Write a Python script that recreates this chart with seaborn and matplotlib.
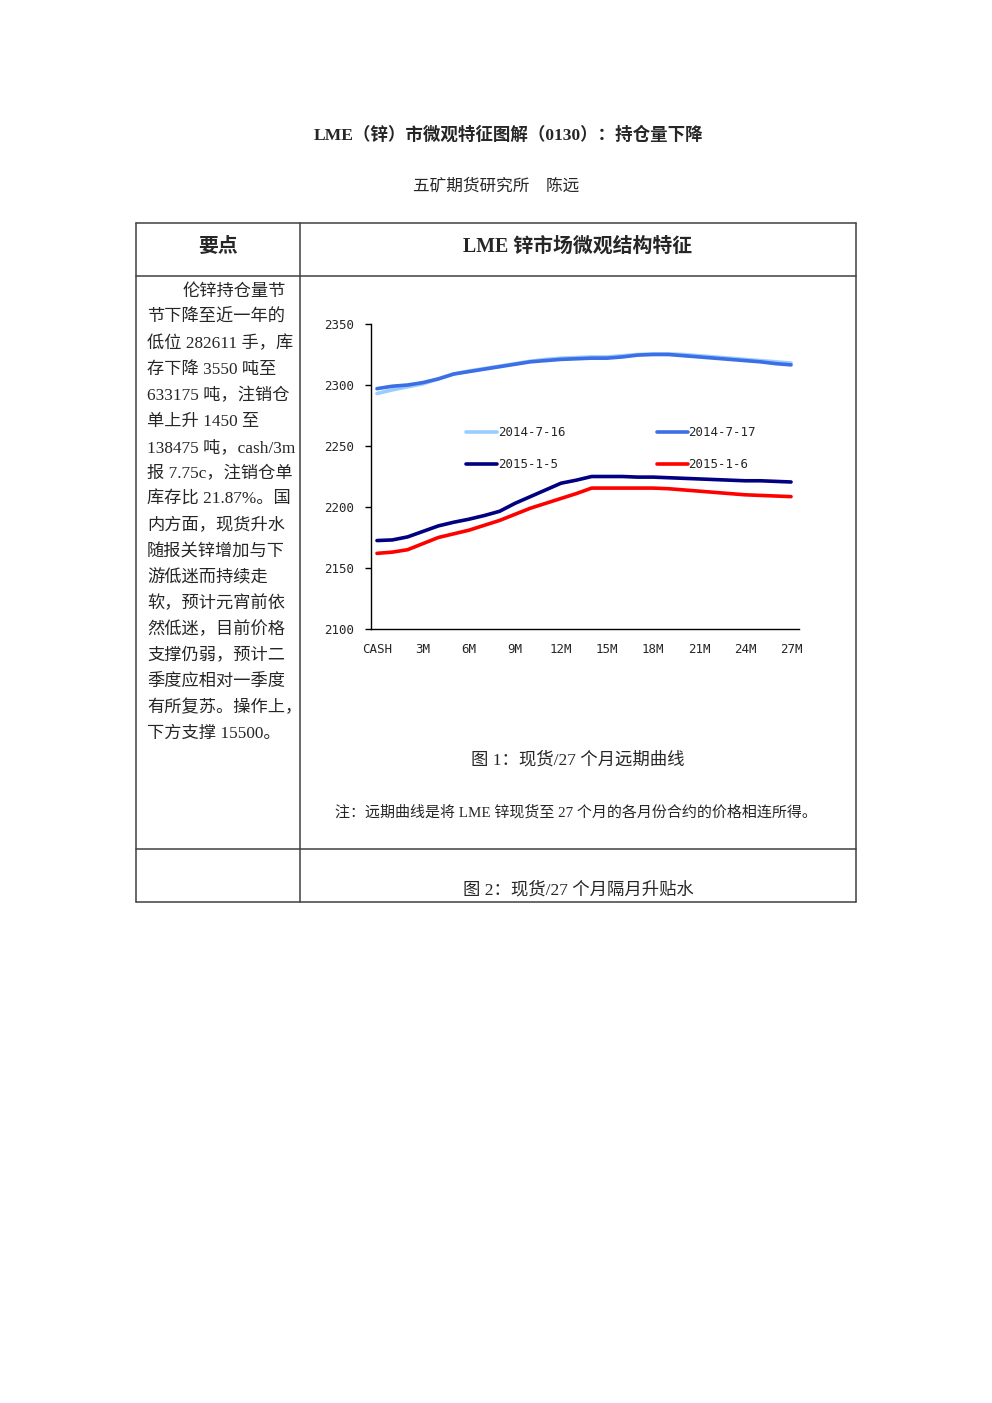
import numpy as np
import pandas as pd
import matplotlib.pyplot as plt
from matplotlib.lines import Line2D
import seaborn as sns

# forward curve data (28 points: CASH, 1M .. 27M)
months = list(range(28))
tick_pos = list(range(0, 28, 3))
tick_labels = ['CASH', '3M', '6M', '9M', '12M', '15M', '18M', '21M', '24M', '27M']

curve_0716 = [2293, 2296, 2298.5, 2301, 2305, 2309, 2311.5, 2313.5, 2315.5, 2317.5,
              2319.5, 2321, 2322, 2322.5, 2323, 2323, 2324, 2325, 2325.5, 2325.5,
              2325, 2324, 2323, 2322, 2321, 2320, 2319, 2318]
curve_0717 = [2297, 2299, 2300, 2302, 2305, 2309, 2311, 2313, 2315, 2317,
              2319, 2320, 2321, 2321.5, 2322, 2322, 2323, 2324.5, 2325, 2325,
              2324, 2323, 2322, 2321, 2320, 2319, 2317.5, 2316.5]
curve_0105 = [2172.5, 2173, 2175.5, 2180, 2184.5, 2187.5, 2190, 2193, 2196.5, 2203,
              2208.5, 2214, 2219.5, 2222, 2225, 2225, 2225, 2224.5, 2224.5, 2224,
              2223.5, 2223, 2222.5, 2222, 2221.5, 2221.5, 2221, 2220.5]
curve_0106 = [2162, 2163, 2165, 2170, 2175, 2178, 2181, 2185, 2189, 2194,
              2199, 2203, 2207, 2211, 2215.5, 2215.5, 2215.5, 2215.5, 2215.5, 2215,
              2214, 2213, 2212, 2211, 2210, 2209.5, 2209, 2208.5]

series_names = ['2014-7-16', '2014-7-17', '2015-1-5', '2015-1-6']
colors = {'2014-7-16': '#99CCFF', '2014-7-17': '#3C6EE6',
          '2015-1-5': '#000080', '2015-1-6': '#FF0000'}

summary_lines = [
    '伦锌持仓量节', '节下降至近一年的', '低位 282611 手，库', '存下降 3550 吨至',
    '633175 吨，注销仓', '单上升 1450 至', '138475 吨，cash/3m', '报 7.75c，注销仓单',
    '库存比 21.87%。国', '内方面，现货升水', '随报关锌增加与下', '游低迷而持续走',
    '软，预计元宵前依', '然低迷，目前价格', '支撑仍弱，预计二', '季度应相对一季度',
    '有所复苏。操作上，', '下方支撑 15500。',
]

sns.set_theme(style="white")
plt.rcParams['font.family'] = ['Liberation Serif', 'Noto Sans CJK SC']

W, H = 992, 1403
fig = plt.figure(figsize=(W / 100, H / 100), dpi=100)


def fx(x):
    return x / W


def fy(y):
    return 1 - y / H


def txt(x, y, s, size=12, weight='normal', ha='center'):
    # +2 px: matplotlib centres on the full box incl. descent
    fig.text(fx(x), fy(y + 2), s, fontsize=size, fontweight=weight, ha=ha, va='center')


def hline(y, x0=136, x1=856):
    fig.add_artist(Line2D([fx(x0), fx(x1)], [fy(y), fy(y)], color='#404040', lw=1.1))


def vline(x, y0=223, y1=902):
    fig.add_artist(Line2D([fx(x), fx(x)], [fy(y0), fy(y1)], color='#404040', lw=1.1))


# page header
txt(509, 133, 'LME（锌）市微观特征图解（0130）：持仓量下降', size=12.6, weight='bold')
txt(496, 185, '五矿期货研究所　陈远', size=12)

# table frame
hline(223)
hline(276)
hline(849)
hline(902)
vline(136)
vline(300)
vline(856)

txt(218, 245, '要点', size=14.3, weight='bold')
txt(578, 245, 'LME 锌市场微观结构特征', size=14.3, weight='bold')

for i, line in enumerate(summary_lines):
    txt(183 if i == 0 else 147, 290 + 26 * i, line, size=12.4, ha='left')

txt(578, 758, '图 1：现货/27 个月远期曲线', size=12.5)
txt(576, 810, '注：远期曲线是将 LME 锌现货至 27 个月的各月份合约的价格相连所得。', size=10.8)
txt(578, 888, '图 2：现货/27 个月隔月升贴水', size=12.5)

# chart
df = pd.DataFrame({
    'month': months * 4,
    'price': curve_0716 + curve_0717 + curve_0105 + curve_0106,
    'date': np.repeat(series_names, len(months)),
})

ax = fig.add_axes([fx(371), fy(629), (799 - 371) / W, (629 - 324) / H])
sns.lineplot(data=df, x='month', y='price', hue='date', palette=colors,
             hue_order=series_names, linewidth=2.6, ax=ax, legend=False)

ax.set_xlim(-0.39, 27.52)
ax.set_ylim(2100, 2350)
ax.set_yticks([2100, 2150, 2200, 2250, 2300, 2350])
ax.set_xticks(tick_pos)
ax.set_xticklabels(tick_labels)
ax.set_xlabel('')
ax.set_ylabel('')
for side in ['top', 'right']:
    ax.spines[side].set_visible(False)
for side in ['left', 'bottom']:
    ax.spines[side].set_color('black')
    ax.spines[side].set_linewidth(1.0)
ax.tick_params(axis='y', left=True, length=4.5, width=1, color='black', pad=8,
               labelsize=9, labelfontfamily='DejaVu Sans Mono')
ax.tick_params(axis='x', bottom=False, length=0, pad=10,
               labelsize=9, labelfontfamily='DejaVu Sans Mono')

legend_order = ['2014-7-16', '2015-1-5', '2014-7-17', '2015-1-6']
handles = [Line2D([], [], color=colors[n], lw=2.6) for n in legend_order]
ax.legend(handles, legend_order, ncol=2, loc='upper left',
          bbox_to_anchor=(0.222, 0.664), frameon=False, borderpad=0,
          borderaxespad=0, handlelength=2.5, handletextpad=0.05,
          columnspacing=7.3, labelspacing=1.5,
          prop={'family': 'DejaVu Sans Mono', 'size': 9})

fig.savefig('out.png', dpi=100)
